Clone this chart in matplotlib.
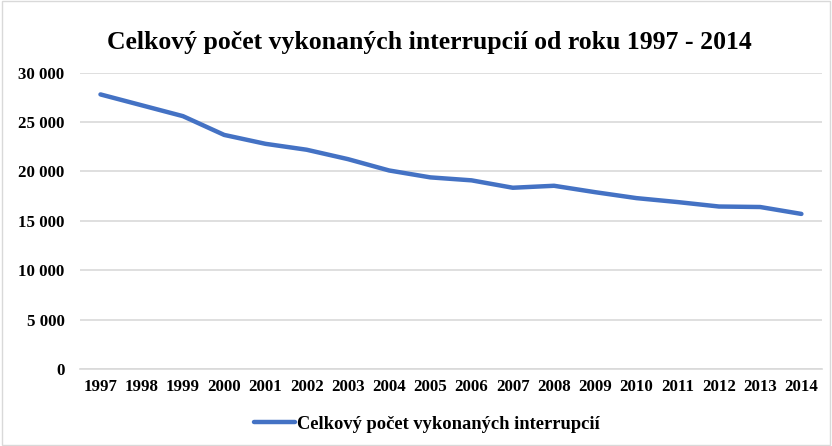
import matplotlib.pyplot as plt
from matplotlib.patches import Rectangle

years = list(range(1997, 2015))
interrupcie = [27800, 26700, 25600, 23700, 22800, 22200, 21250, 20100, 19400,
               19100, 18350, 18550, 17900, 17300, 16900, 16450, 16400, 15700]
y_ticks = [0, 5000, 10000, 15000, 20000, 25000, 30000]
y_labels = ['0', '5 000', '10 000', '15 000', '20 000', '25 000', '30 000']

title = 'Celkový počet vykonaných interrupcií od roku 1997 - 2014'
series_name = 'Celkový počet vykonaných interrupcií'

plt.rcParams['font.family'] = ['Liberation Serif', 'DejaVu Serif']

fig = plt.figure(figsize=(8.32, 4.46), dpi=100)
ax = fig.add_axes([0.096, 0.1727, 0.892, 0.6643])

ax.plot(years, interrupcie, color='#4472C4', linewidth=3.2,
        solid_capstyle='round', label=series_name)

ax.set_xlim(1996.5, 2014.5)
ax.set_ylim(0, 30000)
ax.set_yticks(y_ticks)
ax.set_yticklabels(y_labels)
ax.set_xticks(years)
ax.set_xticklabels([str(y) for y in years])
ax.tick_params(length=0, labelsize=12.2)
ax.tick_params(axis='x', pad=7)
ax.tick_params(axis='y', pad=11)
for lbl in ax.get_xticklabels() + ax.get_yticklabels():
    lbl.set_fontweight('bold')

ax.grid(axis='y', color='#D9D9D9', linewidth=1.2)
ax.set_axisbelow(True)
for s in ['top', 'right', 'left']:
    ax.spines[s].set_visible(False)
ax.spines['bottom'].set_color('#D9D9D9')
ax.spines['bottom'].set_linewidth(1.2)

fig.text(0.516, 0.904, title, ha='center', va='center',
         fontsize=18.5, fontweight='bold')

leg = fig.legend(loc='center', bbox_to_anchor=(0.513, 0.049), frameon=False,
                 prop={'weight': 'bold', 'size': 13.3}, handlelength=2.2,
                 handletextpad=0.1)

fig.patches.append(Rectangle((0.002, 0.002), 0.996, 0.996,
                             transform=fig.transFigure, fill=False,
                             edgecolor='#D9D9D9', linewidth=1))

fig.savefig('out.png', dpi=100)
